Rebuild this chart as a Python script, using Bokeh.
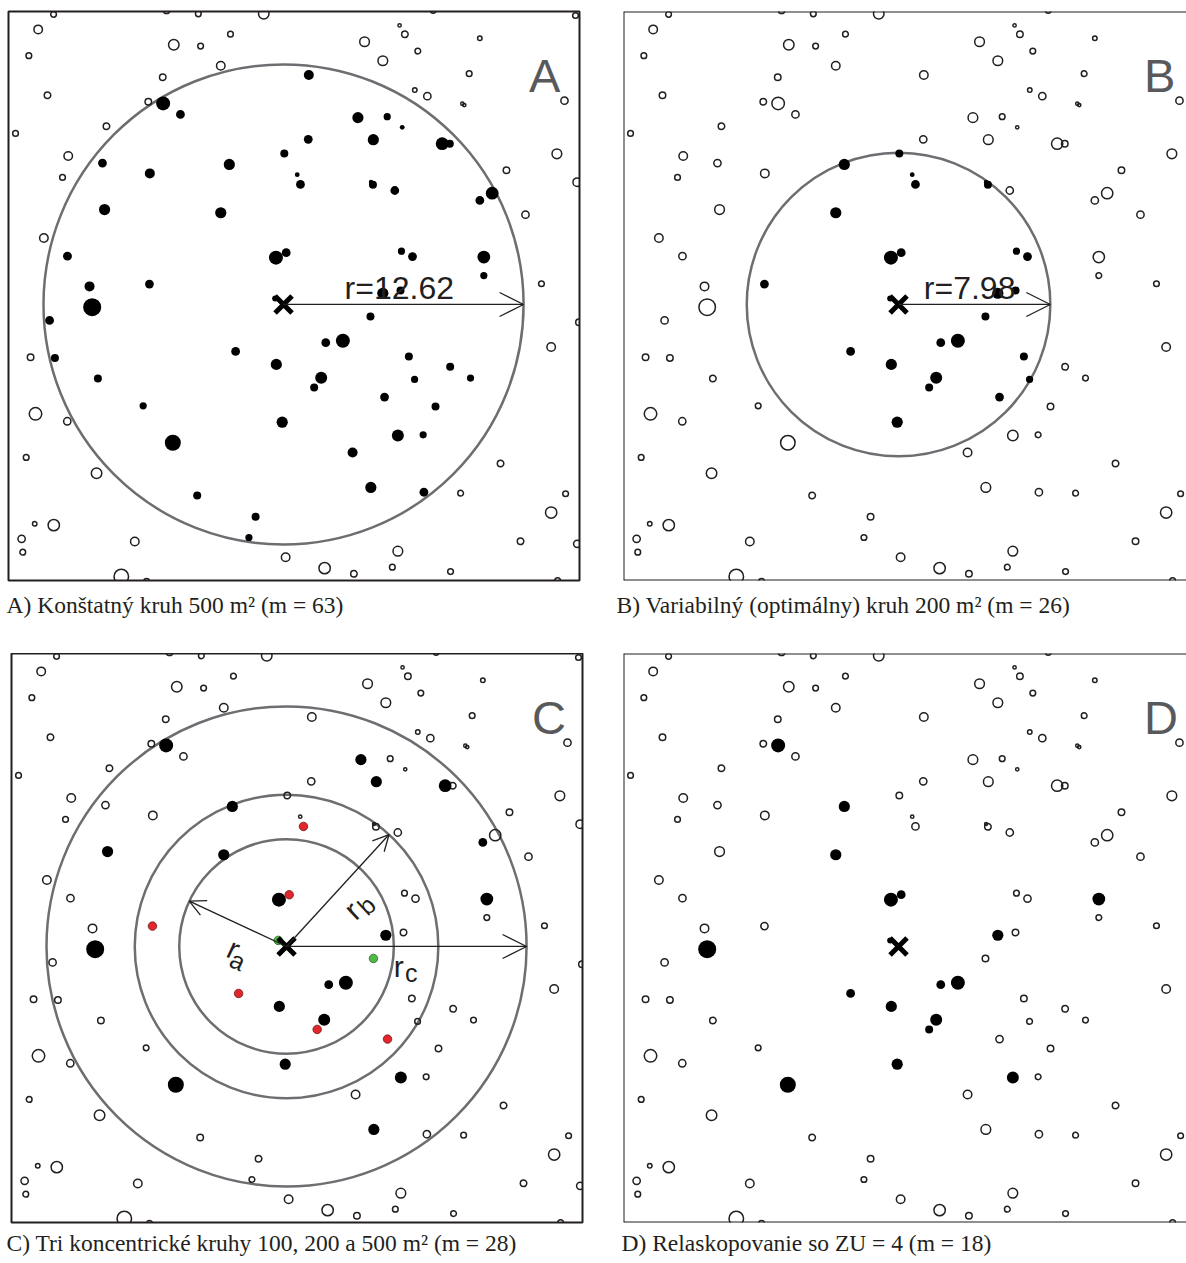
import math
from bokeh.plotting import figure
from bokeh.layouts import row, column
from bokeh.models import Range1d, Label, Arrow, OpenHead, Span
from bokeh.embed import file_html
from bokeh.resources import INLINE

# ---------------- data: tree map (metres from plot centre) ----------------
tree_x = [
    -6.33, -5.42, 0.04, -9.52, -7.03, -2.85, -9.41, -3.30, -11.36, -10.20,
    -7.05, -0.40, 0.14, 1.33, 3.91, 5.45, 6.24, 1.30, 4.72, 8.34,
    8.74, 0.72, 0.89, 4.70, 4.60, 5.85, 10.97, 10.32, 6.20, 6.78,
    10.53, 10.53, 5.22, 6.15, -10.06, -12.30, -12.02, -9.76, -7.38, -2.52,
    -0.38, -0.07, -5.82, -4.54, -1.47, -1.82, 4.57, 2.22, 3.12, 1.98,
    1.61, 6.59, 8.76, 6.89, 9.83, 5.31, 7.99, 6.01, 7.34, 3.63,
    4.59, 7.38, -0.44,
    -12.09, -12.90, -13.39, -12.41, -14.09, -11.32, -11.62, -12.60, -6.15, -5.77,
    -4.36, -4.48, -2.79, -1.04, -3.30, -6.35, -7.11, -9.31, 7.87, 15.35,
    6.10, 6.38, 10.32, 4.26, 7.06, 5.22, 9.76, 6.90, 7.56, 9.40,
    9.50, 14.77, 14.37, 11.72, 15.44, 12.72, 13.56, -13.30, -13.04, -11.37,
    -13.53, -9.83, -13.08, -12.08, -13.77, -13.71, -7.82, 0.11, -8.53, -7.20,
    15.53, 14.07, 11.41, 9.31, 14.83, 14.07, 12.46, 15.44, 6.01, 2.16,
    3.70, 5.72, 8.78, 14.41,
]
tree_y = [
    10.57, 9.99, 7.94, 7.43, 6.89, 7.36, 4.99, 4.82, 2.54, 0.95,
    1.07, 2.46, 2.72, 12.06, 9.82, 9.87, 9.31, 8.68, 8.66, 8.45,
    8.45, 6.82, 6.31, 6.29, 6.44, 5.99, 5.85, 5.47, 2.80, 2.52,
    2.49, 1.52, 0.59, 0.74, -0.14, -0.84, -2.82, -3.89, -5.33, -2.47,
    -3.15, -6.19, -7.27, -10.04, -11.16, -12.25, -0.63, -2.01, -1.91, -3.85,
    -4.36, -2.73, -3.28, -3.94, -3.87, -4.87, -5.36, -6.89, -6.85, -7.78,
    -9.62, -9.87, 0.32,
    15.25, 14.46, 13.08, 11.00, 8.99, 7.80, 6.68, 3.49, 15.46, 13.65,
    13.58, 15.28, 14.21, 15.28, 12.55, 11.95, 10.66, 9.37, 15.46, 15.19,
    14.67, 14.20, 14.00, 13.81, 13.32, 12.81, 12.13, 11.27, 10.95, 10.55,
    10.48, 10.71, 7.92, 7.05, 6.43, 4.72, 1.09, -2.77, -5.75, -6.14,
    -8.04, -8.87, -11.53, -11.60, -12.32, -13.02, -12.46, -13.29, -14.30, -14.55,
    -0.93, -2.24, -8.36, -9.92, -9.95, -10.94, -12.45, -12.58, -12.97, -13.86,
    -14.16, -13.81, -14.04, -14.51,
]
# symbol diameter class (cm)
tree_dbh = [
    35, 22, 20, 22, 25, 28, 28, 28, 22, 25,
    22, 35, 22, 25, 28, 18, 12, 22, 28, 32,
    20, 12, 22, 20, 11, 22, 32, 22, 18, 22,
    32, 18, 28, 20, 45, 22, 20, 20, 18, 22,
    28, 28, 40, 20, 20, 18, 20, 22, 35, 30,
    20, 20, 20, 18, 18, 22, 20, 30, 18, 25,
    28, 22, 15,
    18, 25, 18, 20, 18, 25, 18, 25, 20, 30,
    18, 18, 18, 30, 25, 20, 20, 20, 18, 18,
    12, 20, 15, 28, 18, 28, 18, 15, 22, 12,
    12, 22, 28, 20, 25, 22, 18, 20, 35, 22,
    18, 30, 15, 32, 22, 18, 25, 25, 40, 18,
    20, 25, 20, 18, 18, 32, 20, 22, 28, 32,
    20, 18, 18, 18,
]
# panel C: k = counted, r = red, g = green, o = not counted
c_status = list(
    "kooookkkoo"
    "rkrokoookk"
    "oorooookoo"
    "kokokoooor"
    "kkkooogkkk"
    "roooorokoo"
    "kog"
) + ["o"] * 64
# panel D: counted by relascope (ZU = 4)
d_counted = [
    1, 0, 0, 0, 0, 1, 0, 1, 0, 0,
    0, 1, 1, 0, 0, 0, 0, 0, 0, 0,
    0, 0, 0, 0, 0, 0, 0, 0, 0, 0,
    1, 0, 1, 0, 1, 0, 0, 0, 0, 1,
    1, 1, 1, 0, 0, 0, 0, 1, 1, 1,
    1, 0, 0, 0, 0, 0, 0, 1, 0, 0,
    0, 0, 1,
] + [0] * 64

R_FIXED = 12.62      # 500 m2
R_VARIABLE = 7.98    # 200 m2
R_RINGS = [5.64, 7.98, 12.62]   # 100, 200, 500 m2

panel_letters = ["A", "B", "C", "D"]
captions = [
    "A) Konštatný kruh 500 m² (m = 63)",
    "B) Variabilný (optimálny) kruh 200 m² (m = 26)",
    "C) Tri koncentrické kruhy 100, 200 a 500 m² (m = 28)",
    "D) Relaskopovanie so ZU = 4 (m = 18)",
]

# ---------------- styling ----------------
INK = "#231f20"
RING = "#6d6e71"
LETTER = "#58595b"
XR = (-14.46, 15.56)
XR_CUT = (-14.46, 15.14)
YR = (-14.51, 15.40)


def make_fig(idx, cut, mb, standoff, toff):
    xr = XR_CUT if cut else XR
    p = figure(frame_width=563 if cut else 571, frame_height=569,
               x_range=Range1d(*xr), y_range=Range1d(*YR),
               x_axis_type=None, y_axis_type=None,
               toolbar_location=None, output_backend="svg",
               min_border_left=mb[0], min_border_right=mb[1],
               min_border_top=mb[2], min_border_bottom=mb[3],
               title=captions[idx], title_location="below",
               background_fill_color="white", border_fill_color="white")
    p.title.text_font = "Liberation Serif"
    p.title.text_font_size = "23.5px"
    p.title.text_font_style = "normal"
    p.title.text_color = INK
    p.title.align = "left"
    p.title.standoff = standoff
    p.title.offset = toff
    if cut:
        p.outline_line_color = None
        p.add_layout(Span(location=xr[0], dimension="height", line_color=INK, line_width=2))
        p.add_layout(Span(location=YR[1], dimension="width", line_color=INK, line_width=2))
        p.add_layout(Span(location=YR[0], dimension="width", line_color=INK, line_width=2))
    else:
        p.outline_line_color = INK
        p.outline_line_width = 2
        p.outline_line_alpha = 1
    p.add_layout(Label(x=12.9, y=12.04, text=panel_letters[idx], text_font="Liberation Sans",
                       text_font_size="47px", text_color=LETTER, text_baseline="alphabetic",
                       text_align="left"))
    return p


def draw_trees(p, status):
    ox, oy, osz, fx, fy, fsz = [], [], [], [], [], []
    for x, y, d, s in zip(tree_x, tree_y, tree_dbh, status):
        if s == "k":
            fx.append(x); fy.append(y); fsz.append(d / 2.5)
        elif s == "o":
            ox.append(x); oy.append(y); osz.append(d / 2.5 - 1.5)
    p.scatter(ox, oy, size=osz, marker="circle", fill_color=None,
              line_color=INK, line_width=1.5)
    p.scatter(fx, fy, size=fsz, marker="circle", fill_color="black", line_color=None)
    for code, fill, edge in (("r", "#e3262b", "#6b1a1a"), ("g", "#4fb848", "#2d6b2a")):
        cx = [x for x, s in zip(tree_x, status) if s == code]
        cy = [y for y, s in zip(tree_y, status) if s == code]
        p.scatter(cx, cy, size=8.5, marker="circle", fill_color=fill,
                  line_color=edge, line_width=0.8)


def centre_mark(p):
    p.scatter([0], [0], marker="x", size=24, line_width=5, line_color="black")


def radius_arrow(p, r, ang_deg, head):
    a = math.radians(ang_deg)
    p.add_layout(Arrow(x_start=0, y_start=0, x_end=r * math.cos(a), y_end=r * math.sin(a),
                       line_color=INK, line_width=1.3,
                       end=OpenHead(size=head, line_color=INK, line_width=1.3)))


dist = [math.hypot(x, y) for x, y in zip(tree_x, tree_y)]

# ---- A ----
pA = make_fig(0, False, (8, 36, 11, 73), 19, -2)
pA.circle([0], [0], radius=R_FIXED, fill_color=None, line_color=RING, line_width=2.5)
draw_trees(pA, ["k" if d <= R_FIXED else "o" for d in dist])
radius_arrow(pA, R_FIXED, 0, 24)
centre_mark(pA)
pA.add_layout(Label(x=3.21, y=0.89, text="r=12.62", text_font="Liberation Sans",
                    text_font_size="32px", text_color=INK, text_baseline="alphabetic"))

# ---- B ----
pB = make_fig(1, True, (8, 0, 11, 73), 19, -7)
pB.circle([0], [0], radius=R_VARIABLE, fill_color=None, line_color=RING, line_width=2.5)
draw_trees(pB, ["k" if d <= R_VARIABLE else "o" for d in dist])
radius_arrow(pB, R_VARIABLE, 0, 24)
centre_mark(pB)
pB.add_layout(Label(x=1.33, y=0.89, text="r=7.98", text_font="Liberation Sans",
                    text_font_size="32px", text_color=INK, text_baseline="alphabetic"))

# ---- C ----
pC = make_fig(2, False, (11, 33, 0, 41), 11, -5)
for r in R_RINGS:
    pC.circle([0], [0], radius=r, fill_color=None, line_color=RING, line_width=2.5)
draw_trees(pC, c_status)
radius_arrow(pC, R_RINGS[0], 155, 16)
radius_arrow(pC, R_RINGS[1], 47.5, 16)
radius_arrow(pC, R_RINGS[2], 0, 24)
centre_mark(pC)
ring_labels = [  # (x, y, main, sub, xs, ys, angle)
    (-2.77, -0.12, "r", "a", -2.56, -0.74, -0.44),
    (3.45, 1.89, "r", "b", 4.20, 2.16, 0.75),
    (5.90, -1.06, "r", "c", 6.56, -1.41, 0.0),
]
for x, y, m, s, xs, ys, ang in ring_labels:
    pC.add_layout(Label(x=x, y=y, text=m, angle=ang, text_font="Liberation Sans",
                        text_font_size="30px", text_color=INK, text_align="center",
                        text_baseline="middle"))
    pC.add_layout(Label(x=xs, y=ys, text=s, angle=ang, text_font="Liberation Sans",
                        text_font_size="25px", text_color=INK, text_align="center",
                        text_baseline="middle"))

# ---- D ----
pD = make_fig(3, True, (8, 0, 0, 41), 11, -2)
draw_trees(pD, ["k" if c else "o" for c in d_counted])
centre_mark(pD)

layout = column(row(pA, pB), row(pC, pD))
open("out.html", "w").write(file_html(layout, INLINE, "Kruhové plochy"))
